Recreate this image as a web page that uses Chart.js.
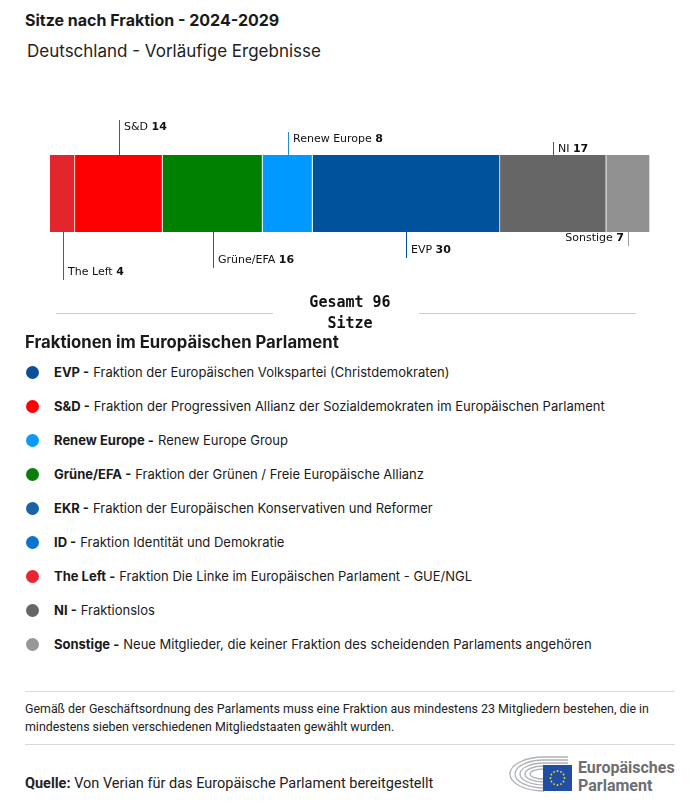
<!DOCTYPE html>
<html lang="de">
<head>
<meta charset="utf-8">
<title>Sitze nach Fraktion - 2024-2029</title>
<script src="https://cdn.jsdelivr.net/npm/chart.js@4/dist/chart.umd.min.js"></script>
<style>
  body { margin: 0; width: 700px; height: 809px; background: #fff; position: relative; font-family: Inter, "Open Sans", sans-serif; color: #1a1a1a; overflow: hidden; }
  .title { position: absolute; left: 25px; top: 10px; font-size: 16px; font-weight: 700; }
  .subtitle { position: absolute; left: 27px; top: 41px; font-size: 17px; font-weight: 400; color: #222; }
  #chartBox { position: absolute; left: 0; top: 0; width: 700px; height: 335px; }
  .legendTitle { position: absolute; left: 25px; top: 332px; font-size: 16.7px; font-weight: 700; }
  ul.legend { position: absolute; left: 25px; top: 362px; margin: 0; padding: 0; list-style: none; }
  ul.legend li { height: 34px; font-size: 13px; display: flex; align-items: flex-start; line-height: 20px; }
  ul.legend li span.dot { display: inline-block; width: 13px; height: 13px; border-radius: 50%; margin: 4px 15px 0 1px; }
  ul.legend b { font-weight: 700; margin-right: 4px; }
  .rule { position: absolute; left: 25px; width: 650px; height: 1px; background: #d9d9d9; }
  .note { position: absolute; left: 25px; top: 700px; width: 650px; font-family: Roboto, sans-serif; font-size: 12.4px; line-height: 18px; color: #222; }
  .source { position: absolute; left: 25px; top: 775px; font-family: Roboto, sans-serif; font-size: 14.5px; color: #222; }
  .source b { font-weight: 700; }
  .logo { position: absolute; left: 508px; top: 753px; }
</style>
</head>
<body>
<div class="title">Sitze nach Fraktion - 2024-2029</div>
<div class="subtitle">Deutschland - Vorläufige Ergebnisse</div>
<div id="chartBox"><canvas id="seatChart"></canvas></div>

<div class="legendTitle">Fraktionen im Europäischen Parlament</div>
<ul class="legend" id="legend"></ul>

<div class="rule" style="top:691px"></div>
<div class="note">Gemäß der Geschäftsordnung des Parlaments muss eine Fraktion aus mindestens 23 Mitgliedern bestehen, die in mindestens sieben verschiedenen Mitgliedstaaten gewählt wurden.</div>
<div class="rule" style="top:744px"></div>
<div class="source"><b>Quelle:</b> Von Verian für das Europäische Parlament bereitgestellt</div>

<svg class="logo" width="170" height="45" viewBox="0 0 170 45">
  <g fill="none" stroke="#aeb2b7" stroke-width="1.3">
    <path d="M36 38 A34 17 0 0 1 36 4" />
    <path d="M36 35 A29 14 0 0 1 36 7" />
    <path d="M36 32 A24 11 0 0 1 36 10" />
    <path d="M36 29 A19 8 0 0 1 36 13" />
    <path d="M36 26 A14 5 0 0 1 36 16" />
    <path d="M36 4 L60 4 M36 7 L60 7 M36 10 L60 10" />
  </g>
  <rect x="35" y="12" width="29" height="26" fill="#1f4ea3" />
  <g fill="#ffdd00" id="stars"></g>
  <text x="70" y="20" font-family="Roboto, sans-serif" font-weight="700" font-size="16" fill="#6d6e71">Europäisches</text>
  <text x="70" y="38" font-family="Roboto, sans-serif" font-weight="700" font-size="16" fill="#6d6e71">Parlament</text>
</svg>

<script>
// sitze je fraktion (Deutschland, vorläufig)
const groups = ['The Left', 'S&D', 'Grüne/EFA', 'Renew Europe', 'EVP', 'NI', 'Sonstige'];
const seats = [4, 14, 16, 8, 30, 17, 7];
const groupColors = ['#e3262d', '#ff0000', '#008000', '#0099ff', '#00529c', '#666666', '#919191'];
const lineColors = ['#d8232a', '#d0202a', '#1a7a1a', '#2a8cc8', '#00529c', '#555555', '#999999'];

// label placement: above / below bar, leader length in px
const labelSide = ['below', 'above', 'below', 'above', 'below', 'above', 'below'];
const leaderLen = [48, 35, 36, 23, 26, 13, 14];

const legendKeys = ['EVP', 'S&D', 'Renew Europe', 'Grüne/EFA', 'EKR', 'ID', 'The Left', 'NI', 'Sonstige'];
const legendTexts = [
  'Fraktion der Europäischen Volkspartei (Christdemokraten)',
  'Fraktion der Progressiven Allianz der Sozialdemokraten im Europäischen Parlament',
  'Renew Europe Group',
  'Fraktion der Grünen / Freie Europäische Allianz',
  'Fraktion der Europäischen Konservativen und Reformer',
  'Fraktion Identität und Demokratie',
  'Fraktion Die Linke im Europäischen Parlament - GUE/NGL',
  'Fraktionslos',
  'Neue Mitglieder, die keiner Fraktion des scheidenden Parlaments angehören'
];
const legendColors = ['#0b4f9a', '#ff0000', '#0d99f5', '#0a7d0a', '#1a62a8', '#0b73cc', '#e8262f', '#666666', '#979797'];

const total = seats.reduce((a, b) => a + b, 0);

// legend list
const ul = document.getElementById('legend');
legendKeys.forEach((k, i) => {
  const li = document.createElement('li');
  li.innerHTML = '<span class="dot" style="background:' + legendColors[i] + '"></span><span><b>' +
    k.replace('&', '&amp;') + ' -</b>' + legendTexts[i] + '</span>';
  ul.appendChild(li);
});

// stars in the logo flag
const starG = document.getElementById('stars');
for (let i = 0; i < 12; i++) {
  const a = i * Math.PI / 6;
  const c = document.createElementNS('http://www.w3.org/2000/svg', 'circle');
  c.setAttribute('cx', (49.5 + 7 * Math.cos(a)).toFixed(2));
  c.setAttribute('cy', (25 + 7 * Math.sin(a)).toFixed(2));
  c.setAttribute('r', '0.9');
  starG.appendChild(c);
}

const segmentLabels = {
  id: 'segmentLabels',
  afterDatasetsDraw(chart) {
    const ctx = chart.ctx;
    ctx.save();
    chart.data.datasets.forEach((ds, i) => {
      const bar = chart.getDatasetMeta(i).data[0];
      const x = Math.round((bar.x + bar.base) / 2) + 0.5;
      const top = bar.y - bar.height / 2;
      const bottom = bar.y + bar.height / 2;
      const len = leaderLen[i];
      ctx.strokeStyle = lineColors[i];
      ctx.lineWidth = 1;
      ctx.beginPath();
      let textY;
      if (labelSide[i] === 'above') {
        ctx.moveTo(x, top);
        ctx.lineTo(x, top - len);
        textY = top - len + 7;
      } else {
        ctx.moveTo(x, bottom);
        ctx.lineTo(x, bottom + len);
        textY = bottom + len - 8;
      }
      ctx.stroke();

      const name = groups[i] + ' ';
      const val = String(seats[i]);
      ctx.textBaseline = 'middle';
      ctx.fillStyle = '#111';
      ctx.font = '11px "DejaVu Sans"';
      const wName = ctx.measureText(name).width;
      ctx.font = 'bold 11px "DejaVu Sans"';
      const wVal = ctx.measureText(val).width;
      let tx = x + 4.5;
      if (i === groups.length - 1) tx = x - 4.5 - wName - wVal;
      ctx.font = '11px "DejaVu Sans"';
      ctx.fillText(name, tx, textY);
      ctx.font = 'bold 11px "DejaVu Sans"';
      ctx.fillText(val, tx + wName, textY);
    });

    // Gesamt
    const cx = 350;
    ctx.strokeStyle = '#cccccc';
    ctx.beginPath();
    ctx.moveTo(56, 313.5); ctx.lineTo(273, 313.5);
    ctx.moveTo(419, 313.5); ctx.lineTo(636, 313.5);
    ctx.stroke();
    ctx.fillStyle = '#111';
    ctx.font = 'bold 15px "DejaVu Sans Mono"';
    ctx.textAlign = 'center';
    ctx.fillText('Gesamt ' + total, cx, 303);
    ctx.fillText('Sitze', cx, 324);
    ctx.restore();
  }
};

new Chart(document.getElementById('seatChart'), {
  type: 'bar',
  data: {
    labels: ['Deutschland'],
    datasets: groups.map((g, i) => ({
      label: g,
      data: [seats[i]],
      backgroundColor: groupColors[i],
      borderColor: '#ffffff',
      borderWidth: { left: 0, top: 0, bottom: 0, right: 1 },
      borderSkipped: false,
      barPercentage: 1,
      categoryPercentage: 1
    }))
  },
  options: {
    indexAxis: 'y',
    responsive: true,
    maintainAspectRatio: false,
    animation: false,
    layout: { padding: { left: 50, right: 50, top: 155, bottom: 103 } },
    scales: {
      x: { stacked: true, display: false, min: 0, max: total },
      y: { stacked: true, display: false }
    },
    plugins: {
      legend: { display: false },
      tooltip: { enabled: false }
    }
  },
  plugins: [segmentLabels]
});
</script>
</body>
</html>
